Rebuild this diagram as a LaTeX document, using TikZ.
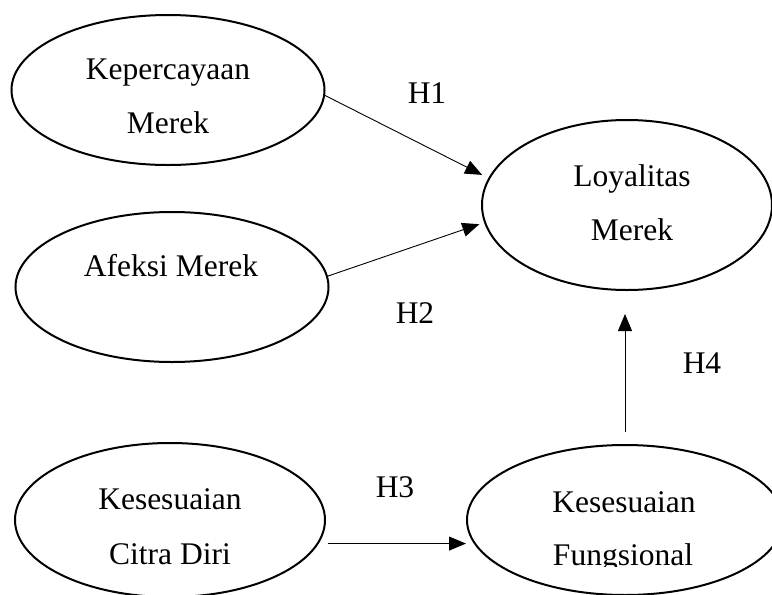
\documentclass[tikz,border=0pt]{standalone}
\usepackage{fontspec}
\setmainfont{Liberation Serif}
\usetikzlibrary{arrows.meta,shapes.geometric}

\begin{document}
\begin{tikzpicture}[x=1pt,y=-1pt,
    var/.style={draw, ellipse, line width=2pt, inner sep=0pt},
    lbl/.style={anchor=base, inner sep=0pt, font=\fontsize{31.5}{36}\selectfont},
    arr/.style={line width=0.9pt, -{Triangle[length=17pt,width=14pt]}}]
\clip (0,0) rectangle (772,595);

% variables
\node[var, minimum width=313pt, minimum height=150pt] (kep) at (168,90) {};
\node[var, minimum width=290pt, minimum height=170pt] (loy) at (627,205) {};
\node[var, minimum width=313pt, minimum height=150pt] (afe) at (172,287) {};
\node[var, minimum width=310pt, minimum height=154pt] (cit) at (170,520) {};
\node[var, minimum width=316pt, minimum height=150pt] (fun) at (625,520) {};

% names
\node[lbl] (kepA) at (168,79) {Kepercayaan};
\begin{scope}
    \clip (0,0) rectangle (772,133);
    \node[lbl] (kepB) at (168,133) {Merek};
\end{scope}
\node[lbl] (loyA) at (632,186) {Loyalitas};
\node[lbl] (loyB) at (632,240) {Merek};
\node[lbl] (afeA) at (171,276) {Afeksi Merek};
\node[lbl] (citA) at (170,509) {Kesesuaian};
\node[lbl] (citB) at (170,564) {Citra Diri};
\node[lbl] (funA) at (624,512) {Kesesuaian};
\begin{scope}
    \clip (0,0) rectangle (772,566);
    \node[lbl] (funB) at (623,565) {Fungsional};
\end{scope}

% paths
\draw[arr, shorten >=7pt] (kep.-2) -- (loy.169);
\draw[arr, shorten >=5pt] (afe.4) -- (loy.187);
\draw[arr, shorten <=9pt] (cit.-9) -- (cit.-9 -| fun.west);
\draw[arr, shorten <=12pt, shorten >=23pt] (fun.north) -- (fun.north |- loy.south);

% hypotheses
\node[lbl] (h1) at (427,103) {H1};
\node[lbl] (h2) at (415,323) {H2};
\begin{scope}
    \clip (0,0) rectangle (772,497);
    \node[lbl] (h3) at (395,497) {H3};
\end{scope}
\node[lbl] (h4) at (702,373) {H4};
\end{tikzpicture}
\end{document}
